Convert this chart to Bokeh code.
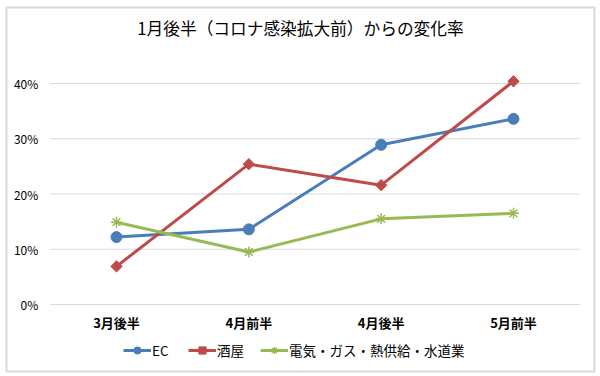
from bokeh.plotting import figure
from bokeh.models import Range1d, Legend, LegendItem
from bokeh.core.properties import value
from bokeh.embed import file_html
from bokeh.resources import INLINE

categories = ["3月後半", "4月前半", "4月後半", "5月前半"]
ec = [0.122, 0.136, 0.289, 0.336]
sakaya = [0.069, 0.254, 0.216, 0.404]
utility = [0.149, 0.095, 0.155, 0.165]
y_ticks = [0.0, 0.1, 0.2, 0.3, 0.4]
y_tick_labels = ["0%", "10%", "20%", "30%", "40%"]
title_text = "1月後半（コロナ感染拡大前）からの変化率"
series_names = ["EC", "酒屋", "電気・ガス・熱供給・水道業"]

FONT = "Noto Sans CJK JP"
W, H = 600, 376
# frame = chart area inside the outer border (6..594, 7..371)
FL, FR, FT, FB = 6, 594, 7, 371
PX_X = 132.33      # pixels per category step
PX_Y = 552.5       # pixels per 1.0 (100%)
X0_PX, Y0_PX = 116, 304   # pixel position of first category / 0%

n = len(categories)
xs = list(range(n))
x_start = -(X0_PX - FL) / PX_X
x_end = (n - 1) + (FR - (X0_PX + (n - 1) * PX_X)) / PX_X
y_start = -(FB - Y0_PX) / PX_Y
y_end = (Y0_PX - FT) / PX_Y

p = figure(width=W, height=H, output_backend="svg", toolbar_location=None,
           x_range=Range1d(x_start, x_end), y_range=Range1d(y_start, y_end),
           x_axis_type=None, y_axis_type=None,
           min_border_left=FL, min_border_right=W - FR,
           min_border_top=FT, min_border_bottom=H - FB)
p.grid.visible = False
p.outline_line_color = "#d9d9d9"
p.outline_line_width = 2
p.background_fill_color = "white"
p.border_fill_color = "white"

# horizontal gridlines
p.segment(x0=[-0.5] * len(y_ticks), x1=[n - 0.5] * len(y_ticks), y0=y_ticks, y1=y_ticks,
          line_color="#d9d9d9", line_width=1)

# y tick labels
p.text(x=[-0.5 - 12 / PX_X] * len(y_ticks), y=y_ticks, text=y_tick_labels,
       text_align="right", text_baseline="middle", text_font=value(FONT),
       text_font_size="12px", text_color="#000000")

# x category labels
p.text(x=xs, y=[-18 / PX_Y] * n, text=categories,
       text_align="center", text_baseline="middle", text_font=value(FONT),
       text_font_size="13px", text_font_style="bold", text_color="#000000")

# title
p.text(x=[(x_start + x_end) / 2], y=[y_end - 20 / PX_Y], text=[title_text],
       text_align="center", text_baseline="middle", text_font=value(FONT),
       text_font_size="16.7px", text_color="#000000")

colors = ["#4A7EBB", "#BE4B48", "#98B954"]

l1 = p.line(xs, ec, line_color=colors[0], line_width=3, line_join="round")
m1 = p.scatter(xs, ec, marker="circle", size=11, fill_color=colors[0], line_color=colors[0])
l2 = p.line(xs, sakaya, line_color=colors[1], line_width=3, line_join="round")
m2 = p.scatter(xs, sakaya, marker="square", angle=0.785398, size=8,
               fill_color=colors[1], line_color=colors[1])
l3 = p.line(xs, utility, line_color=colors[2], line_width=3, line_join="round")
m3 = p.scatter(xs, utility, marker="asterisk", size=11, line_color=colors[2], line_width=1.5)

items = [LegendItem(label=series_names[0], renderers=[l1, m1]),
         LegendItem(label=series_names[1], renderers=[l2, m2]),
         LegendItem(label=series_names[2], renderers=[l3, m3])]
legend = Legend(items=items, orientation="horizontal", location=(117, 11),
                label_text_font=FONT, label_text_font_size="13.5px",
                label_text_color="#000000", glyph_width=28, glyph_height=18,
                label_standoff=1, spacing=16, padding=0, margin=0,
                border_line_color=None, background_fill_alpha=0)
p.add_layout(legend, "center")

open("out.html", "w").write(file_html(p, INLINE))
